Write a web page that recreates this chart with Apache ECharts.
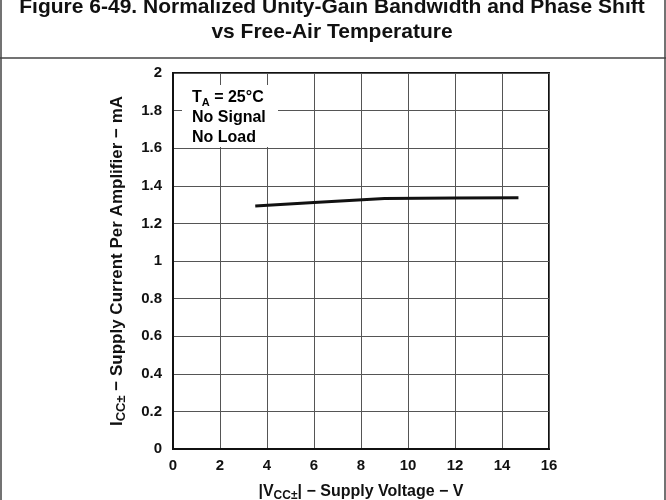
<!DOCTYPE html>
<html>
<head>
<meta charset="utf-8">
<script src="https://cdn.jsdelivr.net/npm/echarts@6/dist/echarts.min.js"></script>
<style>
  html, body { margin: 0; padding: 0; background: #fff; }
  #chart { width: 666px; height: 500px; }
</style>
</head>
<body>
<div id="chart"></div>
<script>
// Supply current per amplifier vs supply voltage (TA = 25 °C)
const supplyVoltage = [3.5, 6, 9, 12, 14.7];               // |VCC±| in V
const supplyCurrent = [1.293, 1.311, 1.333, 1.335, 1.337]; // ICC± in mA
const xTicks = [0, 2, 4, 6, 8, 10, 12, 14, 16];
const yTicks = [0, 0.2, 0.4, 0.6, 0.8, 1, 1.2, 1.4, 1.6, 1.8, 2];
const titleLines = [
  'Figure 6-49. Normalized Unity-Gain Bandwidth and Phase Shift',
  'vs Free-Air Temperature'
];
const conditions = ['{t|T}{s|A}{t| = 25°C}', '{t|No Signal}', '{t|No Load}'];

const FONT = '"Liberation Sans", Arial, Helvetica, sans-serif';
const chart = echarts.init(document.getElementById('chart'), null, { renderer: 'canvas' });

// rich-text styles: normal run + lowered subscript run
function subRich(size, subSize, lineHeight) {
  return {
    t: { fontFamily: FONT, fontWeight: 'bold', fontSize: size, color: '#111', lineHeight: lineHeight },
    s: { fontFamily: FONT, fontWeight: 'bold', fontSize: subSize, color: '#111',
         lineHeight: subSize, verticalAlign: 'bottom' }
  };
}

chart.setOption({
  animation: false,
  backgroundColor: '#fff',
  grid: {
    left: 173, right: 117, top: 73, bottom: 51,
    outerBoundsMode: 'none',
    containLabel: false,
    show: true, borderColor: '#111', borderWidth: 2, backgroundColor: 'transparent'
  },
  xAxis: {
    type: 'value',
    min: xTicks[0], max: xTicks[xTicks.length - 1], interval: xTicks[1] - xTicks[0],
    axisLine: { show: true, lineStyle: { color: '#111', width: 2 } },
    axisTick: { show: false },
    splitLine: { show: true, lineStyle: { color: '#555', width: 1 } },
    axisLabel: { margin: 9, fontFamily: FONT, fontWeight: 'bold', fontSize: 15, color: '#111' },
    name: '{t||V}{s|CC±}{t|| − Supply Voltage − V}',
    nameLocation: 'middle', nameGap: 32,
    nameTextStyle: { rich: subRich(16, 12, 21) }
  },
  yAxis: {
    type: 'value',
    min: yTicks[0], max: yTicks[yTicks.length - 1], interval: 0.2,
    axisLine: { show: true, lineStyle: { color: '#111', width: 2 } },
    axisTick: { show: false },
    splitLine: { show: true, lineStyle: { color: '#555', width: 1 } },
    axisLabel: { margin: 11, fontFamily: FONT, fontWeight: 'bold', fontSize: 15, color: '#111' },
    name: '{t|I}{s|CC±}{t| − Supply Current Per Amplifier − mA}',
    nameLocation: 'middle', nameGap: 45, nameRotate: 90,
    nameTextStyle: { rich: subRich(17, 13, 22) }
  },
  series: [{
    type: 'line',
    data: supplyVoltage.map((v, i) => [v, supplyCurrent[i]]),
    showSymbol: false,
    lineStyle: { color: '#111', width: 3 },
    z: 5
  }],
  graphic: [
    // outer frame and separator under the caption
    { type: 'line', z: 50, shape: { x1: 1, y1: 0, x2: 1, y2: 500 }, style: { stroke: '#444', lineWidth: 1.5 } },
    { type: 'line', z: 50, shape: { x1: 665, y1: 0, x2: 665, y2: 500 }, style: { stroke: '#444', lineWidth: 1.5 } },
    { type: 'line', z: 50, shape: { x1: 0, y1: 58, x2: 666, y2: 58 }, style: { stroke: '#444', lineWidth: 1.5 } },
    // caption
    { type: 'text', z: 50, x: 332, y: 7.5,
      style: { text: titleLines[0], align: 'center', verticalAlign: 'middle',
               font: 'bold 21px ' + FONT, fill: '#111' } },
    { type: 'text', z: 50, x: 332, y: 32,
      style: { text: titleLines[1], align: 'center', verticalAlign: 'middle',
               font: 'bold 21px ' + FONT, fill: '#111' } },
    // test-condition legend on a white patch over the grid
    { type: 'rect', z: 40, shape: { x: 182, y: 85, width: 96, height: 62 }, style: { fill: '#fff' } },
    { type: 'text', z: 50, x: 192, y: 88,
      style: { text: conditions.join('\n'), align: 'left', verticalAlign: 'top',
               rich: subRich(16, 11, 20) } }
  ]
});
</script>
</body>
</html>
